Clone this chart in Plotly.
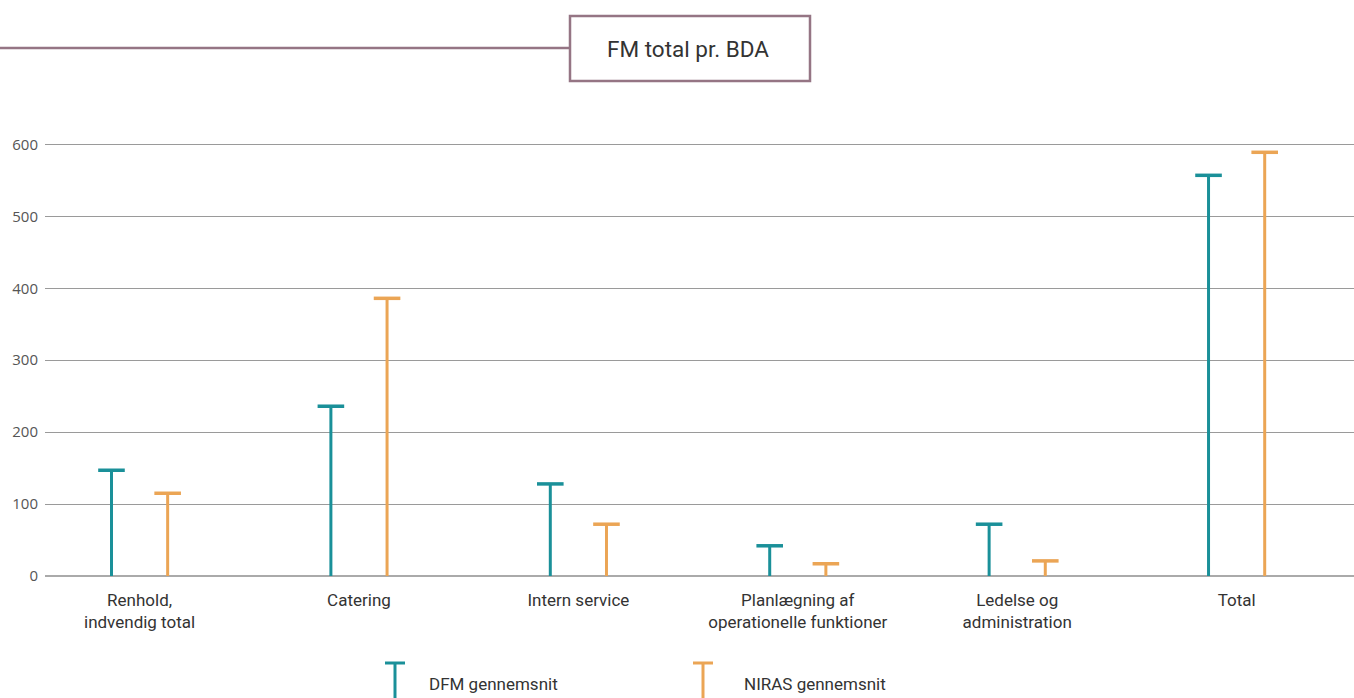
import plotly.graph_objects as go

categories = ["Renhold,<br>indvendig total", "Catering", "Intern service",
              "Planlægning af<br>operationelle funktioner", "Ledelse og<br>administration", "Total"]
dfm = [147, 236, 128, 42, 72, 557]
niras = [115, 386, 72, 17, 21, 589]
series_names = ["DFM gennemsnit", "NIRAS gennemsnit"]
y_ticks = [0, 100, 200, 300, 400, 500, 600]

TEAL = "#1A9099"
ORANGE = "#EBA555"
MAUVE = "#957584"
OFF = 0.128

fig = go.Figure()

def add_series(vals, off, color, name):
    xs, ys = [], []
    for i, v in enumerate(vals):
        xs += [i + off, i + off, None]
        ys += [0, v, None]
    fig.add_trace(go.Scatter(x=xs, y=ys, mode="lines", line=dict(color=color, width=3),
                             name=name, showlegend=False, hoverinfo="skip"))
    fig.add_trace(go.Scatter(x=[i + off for i in range(len(vals))], y=vals, mode="markers",
                             marker=dict(symbol="line-ew", size=19, line=dict(color=color, width=3.5)),
                             name=name, showlegend=False))

add_series(dfm, -OFF, TEAL, series_names[0])
add_series(niras, OFF, ORANGE, series_names[1])

W0, W = 45, 1309
T0, H = 130, 446
def px(x):
    return (x - W0) / W
def py(y):
    return (T0 + H - y) / H

shapes = []
# title line and box
shapes.append(dict(type="line", xref="paper", yref="paper", x0=px(0), x1=px(570), y0=py(48), y1=py(48),
                   line=dict(color=MAUVE, width=2.5)))
shapes.append(dict(type="rect", xref="paper", yref="paper", x0=px(570), x1=px(810), y0=py(81), y1=py(16),
                   line=dict(color=MAUVE, width=2.5), fillcolor="white"))
# legend T symbols
for cx, color in [(395, TEAL), (703, ORANGE)]:
    shapes.append(dict(type="line", xref="paper", yref="paper", x0=px(cx - 10), x1=px(cx + 10),
                       y0=py(663), y1=py(663), line=dict(color=color, width=3)))
    shapes.append(dict(type="line", xref="paper", yref="paper", x0=px(cx), x1=px(cx),
                       y0=py(663), y1=py(700), line=dict(color=color, width=3)))

annotations = [
    dict(text="FM total pr. BDA", xref="paper", yref="paper", x=px(688), y=py(49), showarrow=False,
         font=dict(family="Roboto", size=22.5, color="#333333"), xanchor="center", yanchor="middle"),
    dict(text=series_names[0], xref="paper", yref="paper", x=px(427), y=py(684), showarrow=False,
         font=dict(family="Roboto", size=17, color="#333333"), xanchor="left", yanchor="middle"),
    dict(text=series_names[1], xref="paper", yref="paper", x=px(742), y=py(684), showarrow=False,
         font=dict(family="Roboto", size=17, color="#333333"), xanchor="left", yanchor="middle"),
]

fig.update_layout(
    width=1354, height=698,
    margin=dict(l=W0, r=0, t=T0, b=698 - T0 - H),
    plot_bgcolor="white", paper_bgcolor="white",
    showlegend=False,
    shapes=shapes, annotations=annotations,
    xaxis=dict(range=[-0.431, 5.535], tickvals=list(range(len(categories))), ticktext=categories,
               showgrid=False, zeroline=False, showline=False, ticks="",
               tickfont=dict(family="Roboto", size=17, color="#333333"), ticklabelstandoff=12),
    yaxis=dict(range=[0, 620], tickvals=y_ticks, showgrid=True, gridcolor="#9a9a9a", gridwidth=1,
               zeroline=True, zerolinecolor="#aaaaaa", zerolinewidth=1.5, showline=False, ticks="",
               tickfont=dict(family="Open Sans", size=15, color="#555555"), ticklabelstandoff=6),
)

fig.write_html("out.html", config={"displayModeBar": False},
               post_script="document.body.style.margin='0';document.body.style.overflow='hidden';")
